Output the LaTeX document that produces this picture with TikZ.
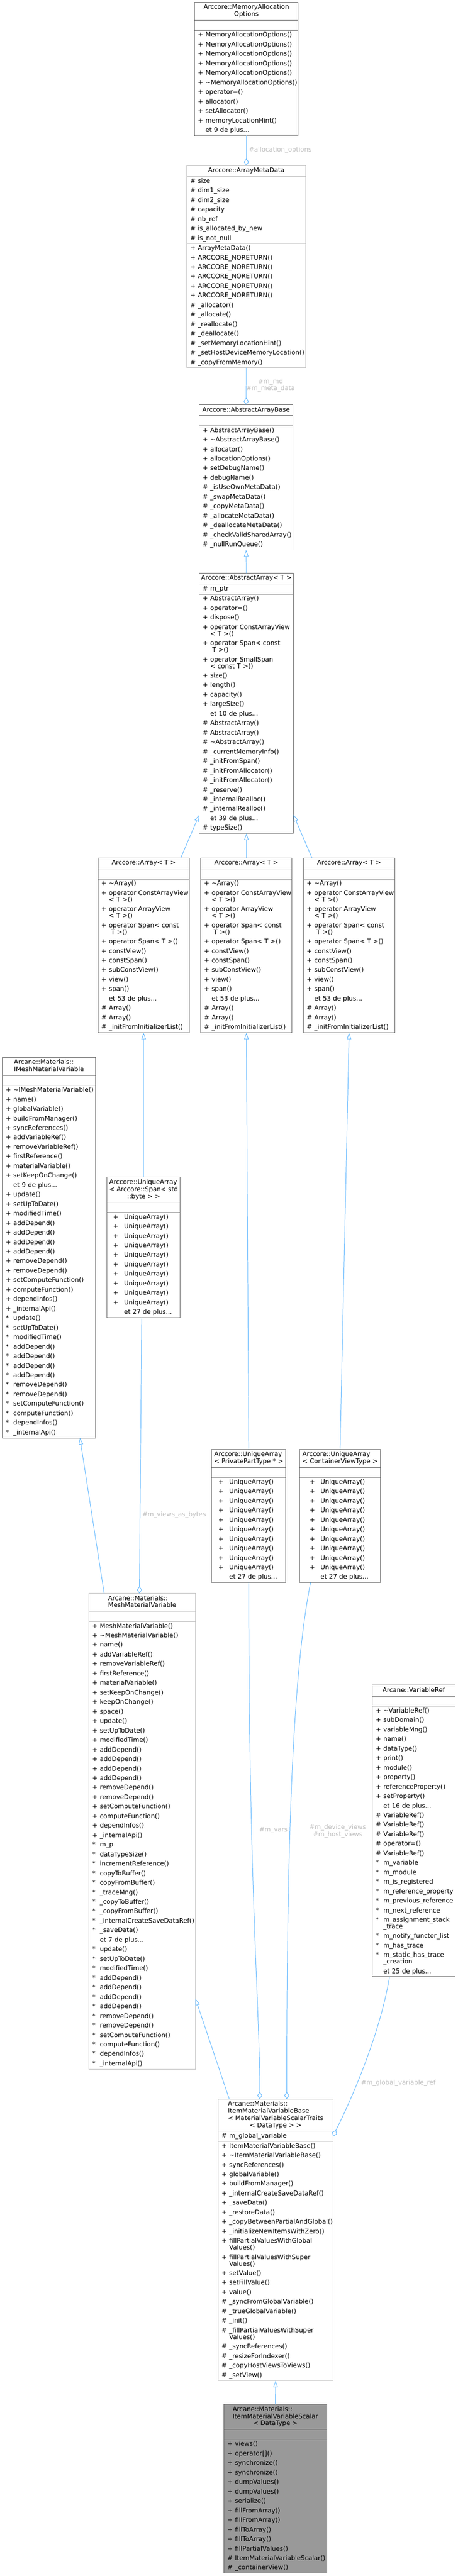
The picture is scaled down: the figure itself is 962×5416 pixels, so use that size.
\documentclass[tikz,border=0pt]{standalone}
\usepackage{fontspec}
\setmainfont{DejaVu Sans}
\usepackage{tikz}
\usetikzlibrary{positioning,arrows.meta}

\definecolor{edgeblue}{HTML}{63B8FF}
\definecolor{lblgrey}{HTML}{BEBEBE}
\definecolor{boxdark}{HTML}{666666}
\definecolor{boxlight}{HTML}{BFBFBF}
\definecolor{boxfill}{HTML}{999999}

\newlength{\symw}\setlength{\symw}{12pt}
\newcommand{\rowstrut}{\rule[-5pt]{0pt}{15pt}}
\newcommand{\mrow}[2]{\rowstrut\makebox[\symw][l]{#1}\mbox{#2}}
\newcommand{\mcont}[1]{\rowstrut\hspace*{\symw}\mbox{#1}}
\newcommand{\ctitle}[2]{\begin{tabular}{@{}l@{}}#1\\\multicolumn{1}{@{}c@{}}{#2}\end{tabular}}
\newcommand{\stitle}[1]{\begin{tabular}{@{}c@{}}#1\end{tabular}}

\begin{document}
\begin{tikzpicture}[x=0.75pt, y=-0.75pt,
    cls/.style={draw=boxdark, fill=white, line width=0.75pt, outer sep=0pt},
    pale/.style={draw=boxlight},
    grey/.style={fill=boxfill},
    ttl/.style={cls, anchor=north west, minimum width=#1*0.75pt, inner xsep=2pt, inner ysep=3pt, font=\fontsize{10pt}{11.25pt}\selectfont},
    prt/.style={cls, minimum width=#1*0.75pt, text width=#1*0.75pt-10.5pt, inner xsep=5.25pt, inner ysep=0.4pt, align=left, font=\fontsize{10pt}{15pt}\selectfont},
    uarr/.style={text width=96pt, execute at begin node={\setlength{\symw}{17.25pt}}},
    inh/.style={draw=edgeblue, line width=0.8pt, -{Triangle[open, width=7pt, length=10.5pt]}},
    use/.style={draw=edgeblue, line width=0.8pt, -{Diamond[open, width=8pt, length=11pt]}},
    lbl/.style={text=lblgrey, inner sep=0pt, font=\fontsize{10pt}{11.25pt}\selectfont},
  ]
  \useasboundingbox (0,0) rectangle (962,5416);

  % Arccore::MemoryAllocationOptions
  \node[ttl=218] (mao) at (409,5) {\ctitle{Arccore::MemoryAllocation}{Options}};
  \node[prt=218, below=0pt of mao] (mao-a) {\rowstrut};
  \node[prt=218, below=0pt of mao-a] (mao-m) {%
    \mrow{+}{MemoryAllocationOptions()}\\
    \mrow{+}{MemoryAllocationOptions()}\\
    \mrow{+}{MemoryAllocationOptions()}\\
    \mrow{+}{MemoryAllocationOptions()}\\
    \mrow{+}{MemoryAllocationOptions()}\\
    \mrow{+}{\textasciitilde MemoryAllocationOptions()}\\
    \mrow{+}{operator=()}\\
    \mrow{+}{allocator()}\\
    \mrow{+}{setAllocator()}\\
    \mrow{+}{memoryLocationHint()}\\
    \mrow{}{et 9 de plus...}};

  % Arccore::ArrayMetaData
  \node[ttl=250, pale] (amd) at (393,348) {\stitle{Arccore::ArrayMetaData}};
  \node[prt=250, pale, below=0pt of amd] (amd-a) {%
    \mrow{\#}{size}\\
    \mrow{\#}{dim1\_size}\\
    \mrow{\#}{dim2\_size}\\
    \mrow{\#}{capacity}\\
    \mrow{\#}{nb\_ref}\\
    \mrow{\#}{is\_allocated\_by\_new}\\
    \mrow{\#}{is\_not\_null}};
  \node[prt=250, pale, below=0pt of amd-a] (amd-m) {%
    \mrow{+}{ArrayMetaData()}\\
    \mrow{+}{ARCCORE\_NORETURN()}\\
    \mrow{+}{ARCCORE\_NORETURN()}\\
    \mrow{+}{ARCCORE\_NORETURN()}\\
    \mrow{+}{ARCCORE\_NORETURN()}\\
    \mrow{+}{ARCCORE\_NORETURN()}\\
    \mrow{\#}{\_allocator()}\\
    \mrow{\#}{\_allocate()}\\
    \mrow{\#}{\_reallocate()}\\
    \mrow{\#}{\_deallocate()}\\
    \mrow{\#}{\_setMemoryLocationHint()}\\
    \mrow{\#}{\_setHostDeviceMemoryLocation()}\\
    \mrow{\#}{\_copyFromMemory()}};

  % Arccore::AbstractArrayBase
  \node[ttl=197] (aab) at (419,851) {\stitle{Arccore::AbstractArrayBase}};
  \node[prt=197, below=0pt of aab] (aab-a) {\rowstrut};
  \node[prt=197, below=0pt of aab-a] (aab-m) {%
    \mrow{+}{AbstractArrayBase()}\\
    \mrow{+}{\textasciitilde AbstractArrayBase()}\\
    \mrow{+}{allocator()}\\
    \mrow{+}{allocationOptions()}\\
    \mrow{+}{setDebugName()}\\
    \mrow{+}{debugName()}\\
    \mrow{\#}{\_isUseOwnMetaData()}\\
    \mrow{\#}{\_swapMetaData()}\\
    \mrow{\#}{\_copyMetaData()}\\
    \mrow{\#}{\_allocateMetaData()}\\
    \mrow{\#}{\_deallocateMetaData()}\\
    \mrow{\#}{\_checkValidSharedArray()}\\
    \mrow{\#}{\_nullRunQueue()}};

  % Arccore::AbstractArray< T >
  \node[ttl=198] (aa) at (419,1205) {\stitle{Arccore::AbstractArray< T >}};
  \node[prt=198, below=0pt of aa] (aa-a) {\mrow{\#}{m\_ptr}};
  \node[prt=198, below=0pt of aa-a] (aa-m) {%
    \mrow{+}{AbstractArray()}\\
    \mrow{+}{operator=()}\\
    \mrow{+}{dispose()}\\
    \mrow{+}{operator ConstArrayView}\\[-4.5pt]
    \mcont{< T >()}\\
    \mrow{+}{operator Span< const}\\[-4.5pt]
    \mcont{\ T >()}\\
    \mrow{+}{operator SmallSpan}\\[-4.5pt]
    \mcont{< const T >()}\\
    \mrow{+}{size()}\\
    \mrow{+}{length()}\\
    \mrow{+}{capacity()}\\
    \mrow{+}{largeSize()}\\
    \mrow{}{et 10 de plus...}\\
    \mrow{\#}{AbstractArray()}\\
    \mrow{\#}{AbstractArray()}\\
    \mrow{\#}{\textasciitilde AbstractArray()}\\
    \mrow{\#}{\_currentMemoryInfo()}\\
    \mrow{\#}{\_initFromSpan()}\\
    \mrow{\#}{\_initFromAllocator()}\\
    \mrow{\#}{\_initFromAllocator()}\\
    \mrow{\#}{\_reserve()}\\
    \mrow{\#}{\_internalRealloc()}\\
    \mrow{\#}{\_internalRealloc()}\\
    \mrow{}{et 39 de plus...}\\
    \mrow{\#}{typeSize()}};

  % Arccore::Array< T > (three times)
  \node[ttl=192] (arr1) at (206,1804) {\stitle{Arccore::Array< T >}};
  \node[prt=192, below=0pt of arr1] (arr1-a) {\rowstrut};
  \node[prt=192, below=0pt of arr1-a] (arr1-m) {%
    \mrow{+}{\textasciitilde Array()}\\
    \mrow{+}{operator ConstArrayView}\\[-4.5pt]
    \mcont{< T >()}\\
    \mrow{+}{operator ArrayView}\\[-4.5pt]
    \mcont{< T >()}\\
    \mrow{+}{operator Span< const}\\[-4.5pt]
    \mcont{\ T >()}\\
    \mrow{+}{operator Span< T >()}\\
    \mrow{+}{constView()}\\
    \mrow{+}{constSpan()}\\
    \mrow{+}{subConstView()}\\
    \mrow{+}{view()}\\
    \mrow{+}{span()}\\
    \mrow{}{et 53 de plus...}\\
    \mrow{\#}{Array()}\\
    \mrow{\#}{Array()}\\
    \mrow{\#}{\_initFromInitializerList()}};

  \node[ttl=192] (arr2) at (422,1804) {\stitle{Arccore::Array< T >}};
  \node[prt=192, below=0pt of arr2] (arr2-a) {\rowstrut};
  \node[prt=192, below=0pt of arr2-a] (arr2-m) {%
    \mrow{+}{\textasciitilde Array()}\\
    \mrow{+}{operator ConstArrayView}\\[-4.5pt]
    \mcont{< T >()}\\
    \mrow{+}{operator ArrayView}\\[-4.5pt]
    \mcont{< T >()}\\
    \mrow{+}{operator Span< const}\\[-4.5pt]
    \mcont{\ T >()}\\
    \mrow{+}{operator Span< T >()}\\
    \mrow{+}{constView()}\\
    \mrow{+}{constSpan()}\\
    \mrow{+}{subConstView()}\\
    \mrow{+}{view()}\\
    \mrow{+}{span()}\\
    \mrow{}{et 53 de plus...}\\
    \mrow{\#}{Array()}\\
    \mrow{\#}{Array()}\\
    \mrow{\#}{\_initFromInitializerList()}};

  \node[ttl=192] (arr3) at (638,1804) {\stitle{Arccore::Array< T >}};
  \node[prt=192, below=0pt of arr3] (arr3-a) {\rowstrut};
  \node[prt=192, below=0pt of arr3-a] (arr3-m) {%
    \mrow{+}{\textasciitilde Array()}\\
    \mrow{+}{operator ConstArrayView}\\[-4.5pt]
    \mcont{< T >()}\\
    \mrow{+}{operator ArrayView}\\[-4.5pt]
    \mcont{< T >()}\\
    \mrow{+}{operator Span< const}\\[-4.5pt]
    \mcont{\ T >()}\\
    \mrow{+}{operator Span< T >()}\\
    \mrow{+}{constView()}\\
    \mrow{+}{constSpan()}\\
    \mrow{+}{subConstView()}\\
    \mrow{+}{view()}\\
    \mrow{+}{span()}\\
    \mrow{}{et 53 de plus...}\\
    \mrow{\#}{Array()}\\
    \mrow{\#}{Array()}\\
    \mrow{\#}{\_initFromInitializerList()}};

  % Arcane::Materials::IMeshMaterialVariable
  \node[ttl=196] (imv) at (5,2223) {\ctitle{Arcane::Materials::}{IMeshMaterialVariable}};
  \node[prt=196, below=0pt of imv] (imv-a) {\rowstrut};
  \node[prt=196, below=0pt of imv-a] (imv-m) {%
    \mrow{+}{\textasciitilde IMeshMaterialVariable()}\\
    \mrow{+}{name()}\\
    \mrow{+}{globalVariable()}\\
    \mrow{+}{buildFromManager()}\\
    \mrow{+}{syncReferences()}\\
    \mrow{+}{addVariableRef()}\\
    \mrow{+}{removeVariableRef()}\\
    \mrow{+}{firstReference()}\\
    \mrow{+}{materialVariable()}\\
    \mrow{+}{setKeepOnChange()}\\
    \mrow{}{et 9 de plus...}\\
    \mrow{+}{update()}\\
    \mrow{+}{setUpToDate()}\\
    \mrow{+}{modifiedTime()}\\
    \mrow{+}{addDepend()}\\
    \mrow{+}{addDepend()}\\
    \mrow{+}{addDepend()}\\
    \mrow{+}{addDepend()}\\
    \mrow{+}{removeDepend()}\\
    \mrow{+}{removeDepend()}\\
    \mrow{+}{setComputeFunction()}\\
    \mrow{+}{computeFunction()}\\
    \mrow{+}{dependInfos()}\\
    \mrow{+}{\_internalApi()}\\
    \mrow{*}{update()}\\
    \mrow{*}{setUpToDate()}\\
    \mrow{*}{modifiedTime()}\\
    \mrow{*}{addDepend()}\\
    \mrow{*}{addDepend()}\\
    \mrow{*}{addDepend()}\\
    \mrow{*}{addDepend()}\\
    \mrow{*}{removeDepend()}\\
    \mrow{*}{removeDepend()}\\
    \mrow{*}{setComputeFunction()}\\
    \mrow{*}{computeFunction()}\\
    \mrow{*}{dependInfos()}\\
    \mrow{*}{\_internalApi()}};

  % Arccore::UniqueArray< ... >
  \node[ttl=154] (uab) at (225,2475) {\ctitle{Arccore::UniqueArray\\< Arccore::Span< std}{::byte > >}};
  \node[prt=154, below=0pt of uab] (uab-a) {\rowstrut};
  \node[prt=154, uarr, below=0pt of uab-a] (uab-m) {%
    \mrow{+}{UniqueArray()}\\
    \mrow{+}{UniqueArray()}\\
    \mrow{+}{UniqueArray()}\\
    \mrow{+}{UniqueArray()}\\
    \mrow{+}{UniqueArray()}\\
    \mrow{+}{UniqueArray()}\\
    \mrow{+}{UniqueArray()}\\
    \mrow{+}{UniqueArray()}\\
    \mrow{+}{UniqueArray()}\\
    \mrow{+}{UniqueArray()}\\
    \mrow{}{et 27 de plus...}};

  \node[ttl=156] (ppt) at (445,3047) {\ctitle{Arccore::UniqueArray}{< PrivatePartType * >}};
  \node[prt=156, below=0pt of ppt] (ppt-a) {\rowstrut};
  \node[prt=156, uarr, below=0pt of ppt-a] (ppt-m) {%
    \mrow{+}{UniqueArray()}\\
    \mrow{+}{UniqueArray()}\\
    \mrow{+}{UniqueArray()}\\
    \mrow{+}{UniqueArray()}\\
    \mrow{+}{UniqueArray()}\\
    \mrow{+}{UniqueArray()}\\
    \mrow{+}{UniqueArray()}\\
    \mrow{+}{UniqueArray()}\\
    \mrow{+}{UniqueArray()}\\
    \mrow{+}{UniqueArray()}\\
    \mrow{}{et 27 de plus...}};

  \node[ttl=170] (cvt) at (630,3047) {\ctitle{Arccore::UniqueArray}{< ContainerViewType >}};
  \node[prt=170, below=0pt of cvt] (cvt-a) {\rowstrut};
  \node[prt=170, uarr, below=0pt of cvt-a] (cvt-m) {%
    \mrow{+}{UniqueArray()}\\
    \mrow{+}{UniqueArray()}\\
    \mrow{+}{UniqueArray()}\\
    \mrow{+}{UniqueArray()}\\
    \mrow{+}{UniqueArray()}\\
    \mrow{+}{UniqueArray()}\\
    \mrow{+}{UniqueArray()}\\
    \mrow{+}{UniqueArray()}\\
    \mrow{+}{UniqueArray()}\\
    \mrow{+}{UniqueArray()}\\
    \mrow{}{et 27 de plus...}};

  % Arcane::Materials::MeshMaterialVariable
  \node[ttl=224, pale] (mmv) at (187,3350) {\ctitle{Arcane::Materials::}{MeshMaterialVariable}};
  \node[prt=224, pale, below=0pt of mmv] (mmv-a) {\rowstrut};
  \node[prt=224, pale, below=0pt of mmv-a] (mmv-m) {%
    \mrow{+}{MeshMaterialVariable()}\\
    \mrow{+}{\textasciitilde MeshMaterialVariable()}\\
    \mrow{+}{name()}\\
    \mrow{+}{addVariableRef()}\\
    \mrow{+}{removeVariableRef()}\\
    \mrow{+}{firstReference()}\\
    \mrow{+}{materialVariable()}\\
    \mrow{+}{setKeepOnChange()}\\
    \mrow{+}{keepOnChange()}\\
    \mrow{+}{space()}\\
    \mrow{+}{update()}\\
    \mrow{+}{setUpToDate()}\\
    \mrow{+}{modifiedTime()}\\
    \mrow{+}{addDepend()}\\
    \mrow{+}{addDepend()}\\
    \mrow{+}{addDepend()}\\
    \mrow{+}{addDepend()}\\
    \mrow{+}{removeDepend()}\\
    \mrow{+}{removeDepend()}\\
    \mrow{+}{setComputeFunction()}\\
    \mrow{+}{computeFunction()}\\
    \mrow{+}{dependInfos()}\\
    \mrow{+}{\_internalApi()}\\
    \mrow{*}{m\_p}\\
    \mrow{*}{dataTypeSize()}\\
    \mrow{*}{incrementReference()}\\
    \mrow{*}{copyToBuffer()}\\
    \mrow{*}{copyFromBuffer()}\\
    \mrow{*}{\_traceMng()}\\
    \mrow{*}{\_copyToBuffer()}\\
    \mrow{*}{\_copyFromBuffer()}\\
    \mrow{*}{\_internalCreateSaveDataRef()}\\
    \mrow{*}{\_saveData()}\\
    \mrow{}{et 7 de plus...}\\
    \mrow{*}{update()}\\
    \mrow{*}{setUpToDate()}\\
    \mrow{*}{modifiedTime()}\\
    \mrow{*}{addDepend()}\\
    \mrow{*}{addDepend()}\\
    \mrow{*}{addDepend()}\\
    \mrow{*}{addDepend()}\\
    \mrow{*}{removeDepend()}\\
    \mrow{*}{removeDepend()}\\
    \mrow{*}{setComputeFunction()}\\
    \mrow{*}{computeFunction()}\\
    \mrow{*}{dependInfos()}\\
    \mrow{*}{\_internalApi()}};

  % Arcane::VariableRef
  \node[ttl=174] (vref) at (783,3543) {\stitle{Arcane::VariableRef}};
  \node[prt=174, below=0pt of vref] (vref-a) {\rowstrut};
  \node[prt=174, below=0pt of vref-a] (vref-m) {%
    \mrow{+}{\textasciitilde VariableRef()}\\
    \mrow{+}{subDomain()}\\
    \mrow{+}{variableMng()}\\
    \mrow{+}{name()}\\
    \mrow{+}{dataType()}\\
    \mrow{+}{print()}\\
    \mrow{+}{module()}\\
    \mrow{+}{property()}\\
    \mrow{+}{referenceProperty()}\\
    \mrow{+}{setProperty()}\\
    \mrow{}{et 16 de plus...}\\
    \mrow{\#}{VariableRef()}\\
    \mrow{\#}{VariableRef()}\\
    \mrow{\#}{VariableRef()}\\
    \mrow{\#}{operator=()}\\
    \mrow{\#}{VariableRef()}\\
    \mrow{*}{m\_variable}\\
    \mrow{*}{m\_module}\\
    \mrow{*}{m\_is\_registered}\\
    \mrow{*}{m\_reference\_property}\\
    \mrow{*}{m\_previous\_reference}\\
    \mrow{*}{m\_next\_reference}\\
    \mrow{*}{m\_assignment\_stack}\\[-4.5pt]
    \mcont{\_trace}\\
    \mrow{*}{m\_notify\_functor\_list}\\
    \mrow{*}{m\_has\_trace}\\
    \mrow{*}{m\_static\_has\_trace}\\[-4.5pt]
    \mcont{\_creation}\\
    \mrow{}{et 25 de plus...}};

  % Arcane::Materials::ItemMaterialVariableBase
  \node[ttl=241, pale] (imvb) at (459,4413) {\ctitle{Arcane::Materials::\\ItemMaterialVariableBase\\< MaterialVariableScalarTraits}{< DataType > >}};
  \node[prt=241, pale, below=0pt of imvb] (imvb-a) {\mrow{\#}{m\_global\_variable}};
  \node[prt=241, pale, below=0pt of imvb-a] (imvb-m) {%
    \mrow{+}{ItemMaterialVariableBase()}\\
    \mrow{+}{\textasciitilde ItemMaterialVariableBase()}\\
    \mrow{+}{syncReferences()}\\
    \mrow{+}{globalVariable()}\\
    \mrow{+}{buildFromManager()}\\
    \mrow{+}{\_internalCreateSaveDataRef()}\\
    \mrow{+}{\_saveData()}\\
    \mrow{+}{\_restoreData()}\\
    \mrow{+}{\_copyBetweenPartialAndGlobal()}\\
    \mrow{+}{\_initializeNewItemsWithZero()}\\
    \mrow{+}{fillPartialValuesWithGlobal}\\[-4.5pt]
    \mcont{Values()}\\
    \mrow{+}{fillPartialValuesWithSuper}\\[-4.5pt]
    \mcont{Values()}\\
    \mrow{+}{setValue()}\\
    \mrow{+}{setFillValue()}\\
    \mrow{+}{value()}\\
    \mrow{\#}{\_syncFromGlobalVariable()}\\
    \mrow{\#}{\_trueGlobalVariable()}\\
    \mrow{\#}{\_init()}\\
    \mrow{\#}{\_fillPartialValuesWithSuper}\\[-4.5pt]
    \mcont{Values()}\\
    \mrow{\#}{\_syncReferences()}\\
    \mrow{\#}{\_resizeForIndexer()}\\
    \mrow{\#}{\_copyHostViewsToViews()}\\
    \mrow{\#}{\_setView()}};

  % Arcane::Materials::ItemMaterialVariableScalar< DataType >
  \node[ttl=216, grey] (imvs) at (471,5055) {\ctitle{Arcane::Materials::\\ItemMaterialVariableScalar}{< DataType >}};
  \node[prt=216, grey, below=0pt of imvs] (imvs-a) {\rowstrut};
  \node[prt=216, grey, below=0pt of imvs-a] (imvs-m) {%
    \mrow{+}{views()}\\
    \mrow{+}{operator[]()}\\
    \mrow{+}{synchronize()}\\
    \mrow{+}{synchronize()}\\
    \mrow{+}{dumpValues()}\\
    \mrow{+}{dumpValues()}\\
    \mrow{+}{serialize()}\\
    \mrow{+}{fillFromArray()}\\
    \mrow{+}{fillFromArray()}\\
    \mrow{+}{fillToArray()}\\
    \mrow{+}{fillToArray()}\\
    \mrow{+}{fillPartialValues()}\\
    \mrow{\#}{ItemMaterialVariableScalar()}\\
    \mrow{\#}{\_containerView()}};

  % inheritance
  \draw[inh] (aa.north) -- (aab-m.south);
  \draw[inh] ([xshift=-13.5pt]arr1.north east) -- ([yshift=29.25pt]aa-m.south west);
  \draw[inh] (arr2.north) -- (aa-m.south);
  \draw[inh] ([xshift=13.5pt]arr3.north west) -- ([yshift=29.25pt]aa-m.south east);
  \draw[inh] (uab.north) -- (arr1-m.south);
  \draw[inh] (ppt.north) -- (arr2-m.south);
  \draw[inh] (cvt.north) -- (arr3-m.south);
  \draw[inh] ([xshift=24pt]mmv.north west) -- ([xshift=-24.75pt]imv-m.south east);
  \draw[inh] ([xshift=17.25pt]imvb.north west) -- ([yshift=111pt]mmv-m.south east);
  \draw[inh] (imvs.north) -- (imvb-m.south);

  % members
  \draw[use] (mao-m.south) -- (amd.north);
  \draw[use] (amd-m.south) -- (aab.north);
  \draw[use] ([xshift=-3pt]uab-m.south) -- ([xshift=-4.5pt]mmv.north);
  \draw[use] (ppt-m.south) .. controls +(0,650) and +(0,-200) .. ([xshift=-25pt]imvb.north);
  \draw[use] ([xshift=17.25pt]cvt-m.south west) .. controls +(-40,200) and +(0,-500) .. ([xshift=17.5pt]imvb.north);
  \draw[use] ([xshift=27pt]vref-m.south west) .. controls +(-20,120) and +(40,-80) .. (imvb-a.east);

  \node[lbl, anchor=west] (l-alloc) at (523,315) {\#allocation\_options};
  \node[lbl, align=center] (l-md) at (569,810) {\#m\_md\\\#m\_meta\_data};
  \node[lbl, anchor=west] (l-bytes) at (299,3185) {\#m\_views\_as\_bytes};
  \node[lbl, anchor=west] (l-vars) at (545,3848) {\#m\_vars};
  \node[lbl, align=center] (l-views) at (710,3850) {\#m\_device\_views\\\#m\_host\_views};
  \node[lbl, anchor=west] (l-gref) at (759,4380) {\#m\_global\_variable\_ref};
\end{tikzpicture}
\end{document}
